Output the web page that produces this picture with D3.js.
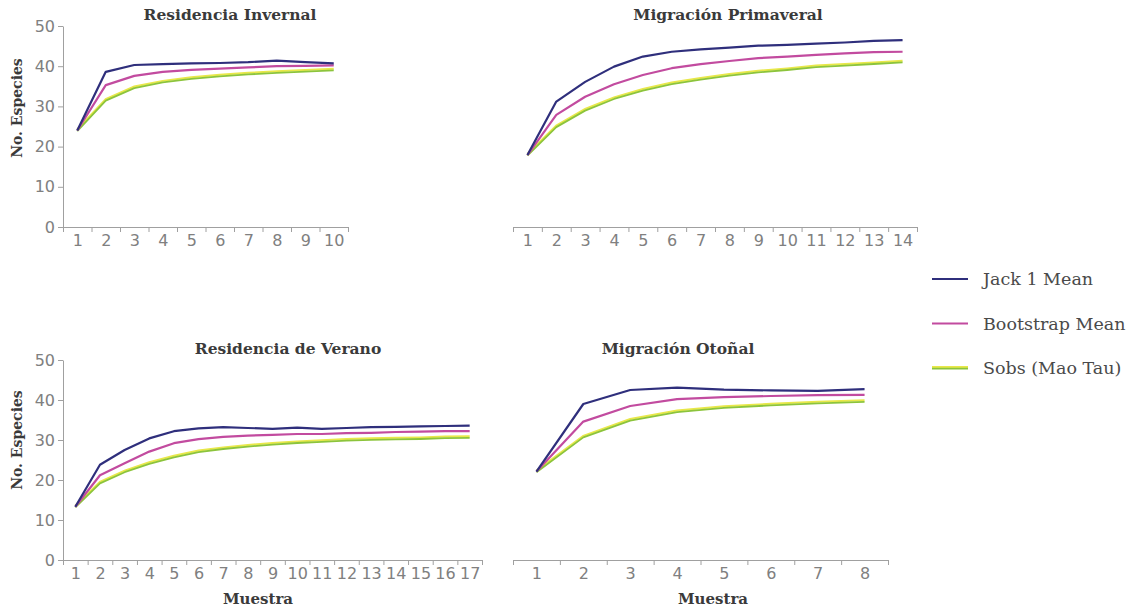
<!DOCTYPE html>
<html>
<head>
<meta charset="utf-8">
<script src="https://cdn.jsdelivr.net/npm/d3@7"></script>
<style>
  body { margin: 0; background: #fff; }
  .tick text { font-family: "DejaVu Sans", sans-serif; fill: #808080; }
  .domain, .tick line { stroke: #a0a0a0; }
  .title { font-family: "DejaVu Serif", serif; font-weight: bold; fill: #3a3a3a; }
  .legend text { font-family: "DejaVu Serif", serif; fill: #4a4a4a; }
</style>
</head>
<body>
<svg id="chart" width="1134" height="611"></svg>
<script>
let series = ["Jack 1 Mean", "Bootstrap Mean", "Sobs (Mao Tau)"],
  colors = ["#2f2f7c", "#c24b9f", "#8cc43c"],
  sobsGlow = "#e8e84a",
  yTicks = [0, 10, 20, 30, 40, 50];

// Residencia Invernal
let invJack = [24, 38.6, 40.3, 40.5, 40.7, 40.8, 41, 41.4, 41, 40.7],
  invBoot = [24, 35.3, 37.6, 38.6, 39.1, 39.4, 39.7, 40, 40.1, 40.2],
  invSobs = [24, 31.6, 34.7, 36.1, 37, 37.6, 38.1, 38.5, 38.8, 39.1];

// Migración Primaveral
let priJack = [17.9, 31.2, 36.1, 39.9, 42.4, 43.6, 44.2, 44.6, 45.1, 45.3, 45.6, 45.9, 46.3, 46.5],
  priBoot = [17.9, 27.9, 32.4, 35.5, 37.8, 39.5, 40.5, 41.3, 42, 42.4, 42.8, 43.2, 43.5, 43.6],
  priSobs = [17.9, 25, 29.1, 32, 34.1, 35.7, 36.8, 37.8, 38.6, 39.2, 39.9, 40.3, 40.7, 41.1];

// Residencia de Verano
let verJack = [13.3, 23.8, 27.5, 30.4, 32.2, 32.9, 33.2, 33, 32.8, 33.1, 32.8, 33, 33.2, 33.3, 33.4, 33.5, 33.6],
  verBoot = [13.3, 21.2, 24.2, 27.1, 29.2, 30.2, 30.8, 31.1, 31.3, 31.5, 31.5, 31.7, 31.8, 32, 32.1, 32.2, 32.2],
  verSobs = [13.3, 19.3, 22.1, 24.2, 25.8, 27.1, 27.9, 28.5, 29, 29.4, 29.7, 30, 30.2, 30.3, 30.4, 30.6, 30.7];

// Migración Otoñal
let otoJack = [22.1, 39, 42.5, 43.1, 42.6, 42.4, 42.3, 42.7],
  otoBoot = [22.1, 34.6, 38.5, 40.2, 40.7, 41, 41.2, 41.3],
  otoSobs = [22.1, 30.8, 35, 37.1, 38.2, 38.8, 39.3, 39.7];

let panels = [
  {title: "Residencia Invernal", data: [invJack, invBoot, invSobs], x0: 63, x1: 348, top: 26, bottom: 227,
   yAxis: true, titleX: 230, yLabelY: 108, xTitleX: null},
  {title: "Migración Primaveral", data: [priJack, priBoot, priSobs], x0: 513, x1: 917, top: 26, bottom: 227,
   yAxis: false, titleX: 728, xTitleX: null},
  {title: "Residencia de Verano", data: [verJack, verBoot, verSobs], x0: 63, x1: 482, top: 360, bottom: 560,
   yAxis: true, titleX: 288, yLabelY: 440, xTitleX: 258},
  {title: "Migración Otoñal", data: [otoJack, otoBoot, otoSobs], x0: 513, x1: 888, top: 360, bottom: 560,
   yAxis: false, titleX: 678, xTitleX: 713}
];

let svg = d3.select("#chart");

panels.forEach(p => draw_panel(p));
legend();

function draw_panel(p) {
  let n = p.data[0].length,
    g = svg.append("g"),
    x = d3.scaleLinear().domain([0.5, n + 0.5]).range([p.x0, p.x1]),
    y = d3.scaleLinear().domain([0, 50]).range([p.bottom, p.top]);

  // boundary ticks
  g.append("g")
    .attr("transform", `translate(0, ${p.bottom})`)
    .call(d3.axisBottom(x).tickValues(d3.range(0.5, n + 1, 1)).tickFormat("").tickSize(5).tickSizeOuter(0));
  // labels at categories
  let lab = g.append("g")
    .attr("transform", `translate(0, ${p.bottom})`)
    .call(d3.axisBottom(x).tickValues(d3.range(1, n + 1)).tickFormat(d3.format("d")).tickSize(0).tickPadding(8));
  lab.select(".domain").remove();
  lab.selectAll("text").attr("font-size", 16);

  if (p.yAxis) {
    let ya = g.append("g")
      .attr("transform", `translate(${p.x0}, 0)`)
      .call(d3.axisLeft(y).tickValues(yTicks).tickSize(5).tickSizeOuter(0).tickPadding(3));
    ya.selectAll("text").attr("font-size", 16);

    g.append("text")
      .attr("class", "title")
      .attr("transform", `translate(22, ${p.yLabelY})rotate(-90)`)
      .attr("text-anchor", "middle")
      .attr("font-size", 14)
      .text("No. Especies");
  }

  if (p.xTitleX) {
    g.append("text")
      .attr("class", "title")
      .attr("x", p.xTitleX)
      .attr("y", p.bottom + 44)
      .attr("text-anchor", "middle")
      .attr("font-size", 15)
      .text("Muestra");
  }

  g.append("text")
    .attr("class", "title")
    .attr("x", p.titleX)
    .attr("y", p.top - 6)
    .attr("text-anchor", "middle")
    .attr("font-size", 15.5)
    .text(p.title);

  let line = d3.line()
    .x((d, i) => x(i + 1))
    .y(d => y(d));

  // yellow sheen above the Sobs line
  g.append("path")
    .datum(p.data[2])
    .attr("transform", "translate(0, -1)")
    .attr("fill", "none")
    .attr("stroke", sobsGlow)
    .attr("stroke-width", 2)
    .attr("d", line);

  // draw Sobs first so Jack sits on top
  [2, 1, 0].forEach(k => {
    g.append("path")
      .datum(p.data[k])
      .attr("fill", "none")
      .attr("stroke", colors[k])
      .attr("stroke-width", k == 2 ? 1.8 : 2.2)
      .attr("stroke-linejoin", "round")
      .attr("transform", k == 2 ? "translate(0, 0.6)" : null)
      .attr("d", line);
  });
}

function legend() {
  let lg = svg.append("g").attr("class", "legend");
  let items = lg.selectAll("g")
    .data(series).enter()
    .append("g")
    .attr("transform", (d, i) => `translate(932, ${279 + i * 44.5})`);
  items.filter((d, i) => i == 2)
    .append("line")
    .attr("x1", 0).attr("x2", 36)
    .attr("y1", -1).attr("y2", -1)
    .attr("stroke", sobsGlow)
    .attr("stroke-width", 2);
  items.append("line")
    .attr("x1", 0).attr("x2", 36)
    .attr("y1", (d, i) => i == 2 ? 0.6 : 0)
    .attr("y2", (d, i) => i == 2 ? 0.6 : 0)
    .attr("stroke", (d, i) => colors[i])
    .attr("stroke-width", (d, i) => i == 2 ? 1.8 : 2.2);
  items.append("text")
    .attr("x", 51)
    .attr("y", 6)
    .attr("font-size", 17.5)
    .text(d => d);
}
</script>
</body>
</html>
